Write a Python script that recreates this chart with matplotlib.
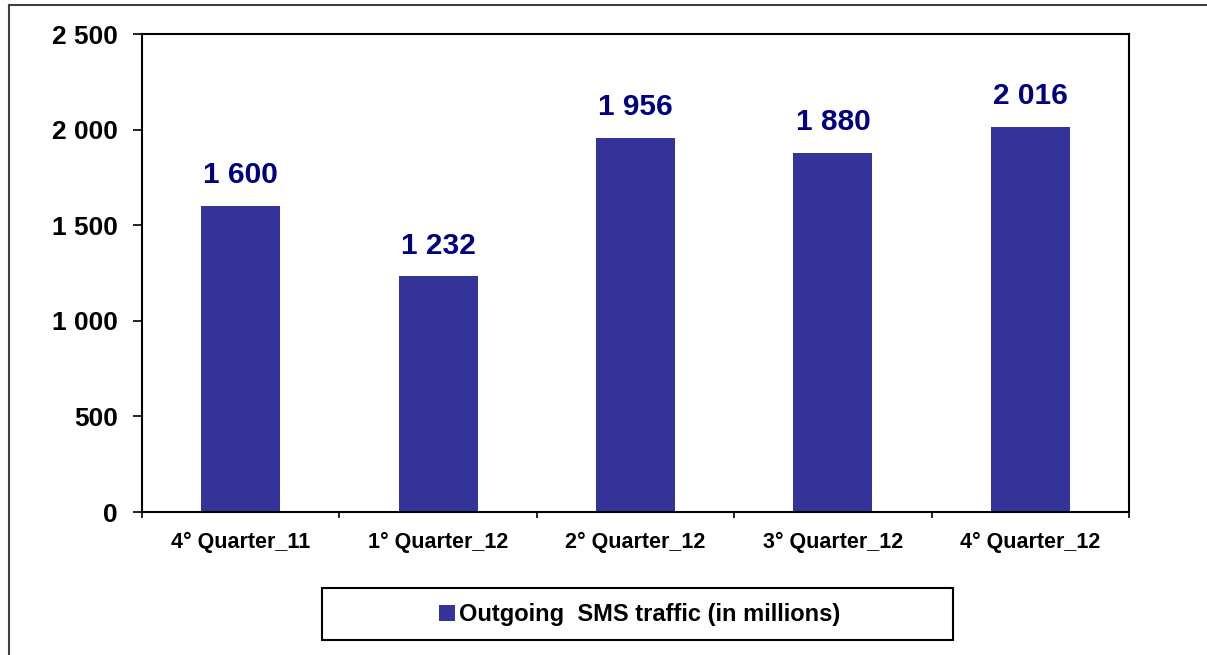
import matplotlib
matplotlib.use("Agg")
import matplotlib.pyplot as plt
from matplotlib.patches import Rectangle
from matplotlib.lines import Line2D

plt.rcParams['font.family'] = ['Liberation Sans', 'DejaVu Sans']
plt.rcParams['font.weight'] = 'bold'

# data
quarters = ['4° Quarter_11', '1° Quarter_12', '2° Quarter_12', '3° Quarter_12', '4° Quarter_12']
sms = [1600, 1232, 1956, 1880, 2016]
bar_labels = ['1 600', '1 232', '1 956', '1 880', '2 016']
y_ticks = [0, 500, 1000, 1500, 2000, 2500]
y_tick_labels = ['0', '500', '1 000', '1 500', '2 000', '2 500']
series_name = 'Outgoing  SMS traffic (in millions)'

bar_color = '#333399'
label_color = '#000080'

fig = plt.figure(figsize=(12.07, 6.55), dpi=100)
ax = fig.add_axes([142 / 1207, 1 - 512 / 655, (1129 - 142) / 1207, (512 - 34) / 655])

x = list(range(len(quarters)))
bars = ax.bar(x, sms, width=0.4, color=bar_color, label=series_name)

# value labels above bars
for xi, v, txt in zip(x, sms, bar_labels):
    ax.annotate(txt, (xi, v), xytext=(0, 16.5), textcoords='offset points',
                ha='center', va='baseline', fontsize=21.5, fontweight='bold',
                color=label_color)

ax.set_xlim(-0.5, len(quarters) - 0.5)
ax.set_ylim(0, 2500)

ax.set_yticks(y_ticks)
ax.set_yticklabels(y_tick_labels, fontsize=19, fontweight='bold')
ax.tick_params(axis='y', direction='out', length=6.5, width=1.2, pad=11)

# category labels at centres, tick marks between categories
ax.set_xticks(x)
ax.set_xticklabels(quarters, fontsize=15.5, fontweight='bold')
ax.tick_params(axis='x', which='major', length=0, pad=14.5)
ax.set_xticks([i + 0.5 for i in range(-1, len(quarters))], minor=True)
ax.tick_params(axis='x', which='minor', direction='out', length=4.5, width=1.2)

for s in ax.spines.values():
    s.set_linewidth(1.5)
    s.set_color('black')

# legend box
fig.patches.append(Rectangle((322 / 1207, 1 - 640 / 655), (953 - 322) / 1207, 52 / 655,
                             transform=fig.transFigure, facecolor='white',
                             edgecolor='black', linewidth=1.5))
fig.legend(handles=[bars], labels=[series_name], loc='center',
           bbox_to_anchor=(640 / 1207, 1 - 615 / 655), frameon=False,
           prop={'size': 17, 'weight': 'bold'}, handlelength=0.65,
           handleheight=0.65, handletextpad=0.2, borderpad=0)

# outer frame (top and left edges visible)
fig.lines.append(Line2D([8.5 / 1207, 1], [1 - 4.5 / 655, 1 - 4.5 / 655],
                        transform=fig.transFigure, color='#404040', lw=1.5))
fig.lines.append(Line2D([8.5 / 1207, 8.5 / 1207], [0, 1 - 4.5 / 655],
                        transform=fig.transFigure, color='#404040', lw=1.5))

fig.savefig('out.png', dpi=100)
